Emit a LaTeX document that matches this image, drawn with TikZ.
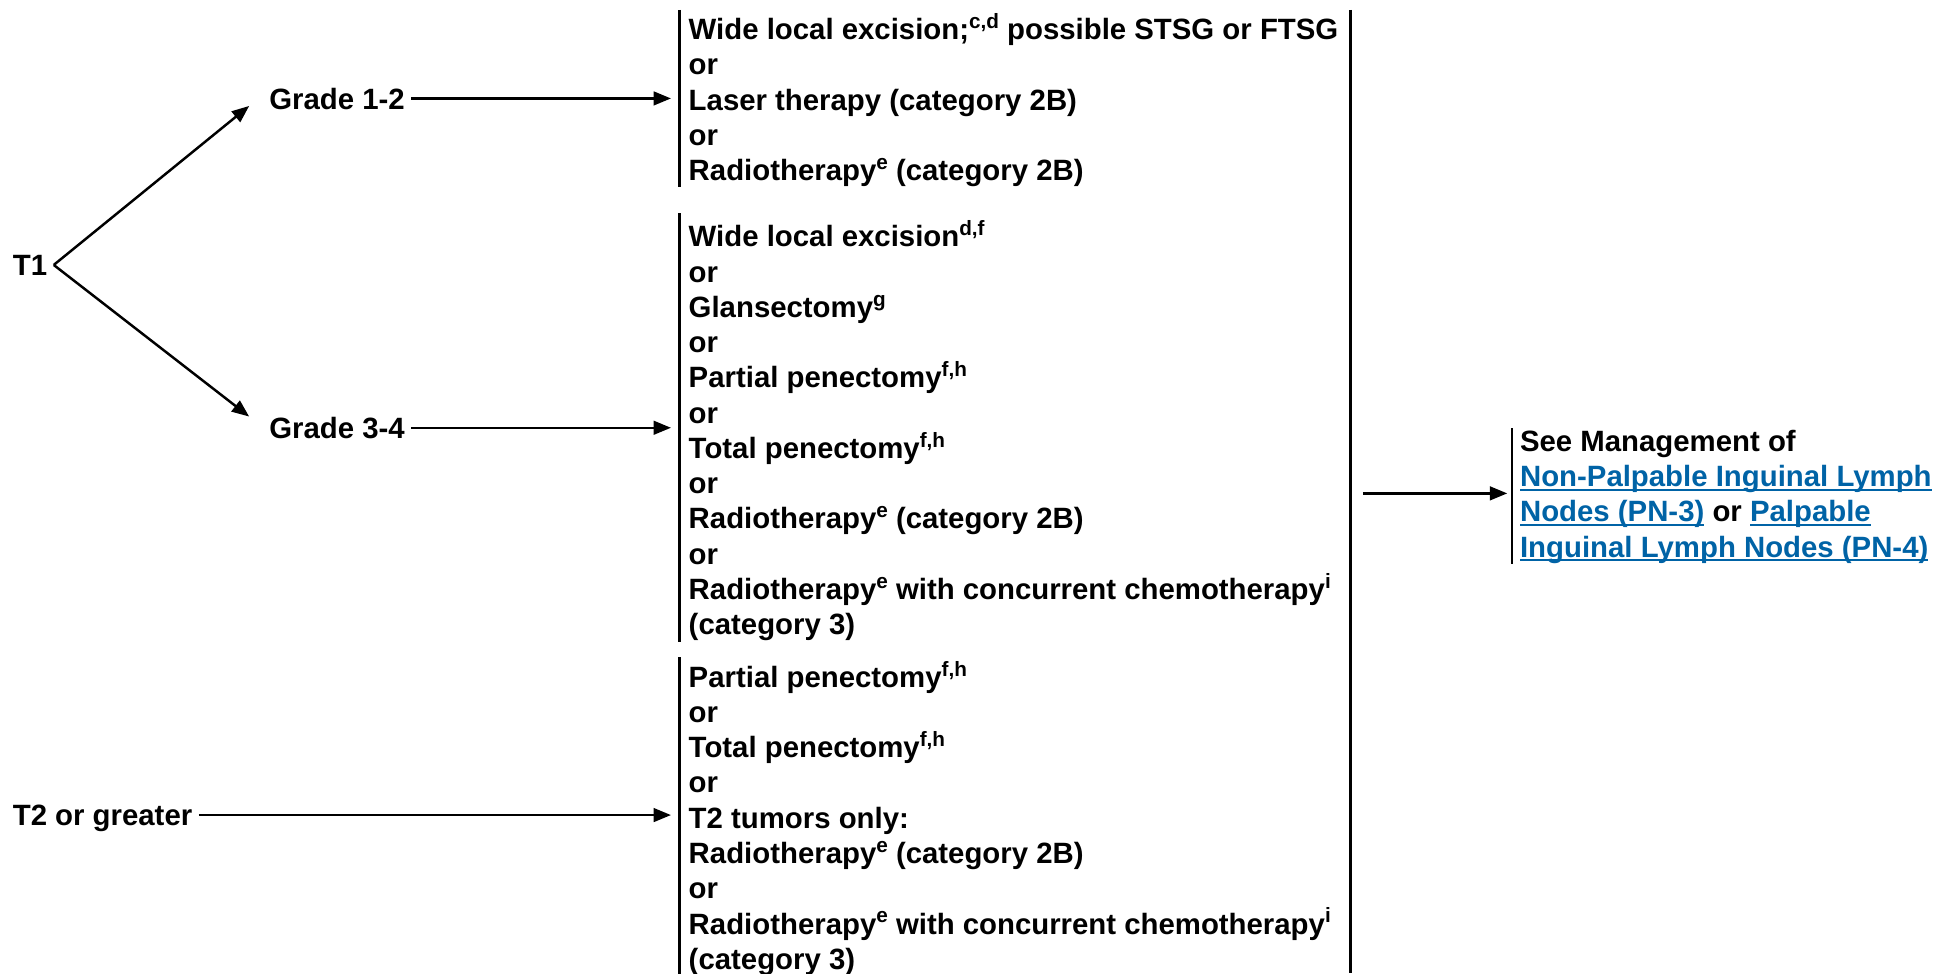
\documentclass[tikz,border=0pt]{standalone}
\usepackage{fontspec}
\setmainfont{Liberation Sans}
\usetikzlibrary{arrows.meta}
\definecolor{nccnblue}{RGB}{0,99,166}
\newcommand\nlink[1]{{\color{nccnblue}\setbox0\hbox{#1}\rlap{\rule[-1.7pt]{\wd0}{0.85pt}}\box0}}
\newcommand\sups[1]{\raisebox{4.5pt}{\fontsize{8.4}{9}\selectfont #1}}
\begin{document}
\begin{tikzpicture}[x=0.5pt,y=-0.5pt,
  every node/.style={font=\fontsize{11.9}{14.3}\selectfont\bfseries},
  lbl/.style={inner xsep=2.5pt, inner ysep=0pt, text height=8.7pt, text depth=0pt, anchor=base west},
  opts/.style={align=left, anchor=north west, inner xsep=3.5pt, inner ysep=0pt},
  conn/.style={line width=1pt, -{Triangle[length=7pt,width=5.5pt]}},
  bar/.style={line width=1pt}]
\useasboundingbox (0,0) rectangle (1568,789);

% labels
\node[lbl] (t1)  at (5,223.5)   {T1};
\node[lbl] (g12) at (213,88.5)  {Grade 1-2};
\node[lbl] (g34) at (213,355.5) {Grade 3-4};
\node[lbl] (t2)  at (5,669.5)   {T2 or greater};

% option blocks
\node[opts] (b1) at (551,10.5) {\strut Wide local excision;\sups{c,d} possible STSG or FTSG\\
or\\
Laser therapy (category 2B)\\
or\\
Radiotherapy\sups{e} (category 2B)};

\node[opts] (b2) at (551,178.5) {\strut Wide local excision\sups{d,f}\\
or\\
Glansectomy\sups{g}\\
or\\
Partial penectomy\sups{f,h}\\
or\\
Total penectomy\sups{f,h}\\
or\\
Radiotherapy\sups{e} (category 2B)\\
or\\
Radiotherapy\sups{e} with concurrent chemotherapy\sups{i}\\
(category 3)};

\node[opts] (b3) at (551,535.5) {\strut Partial penectomy\sups{f,h}\\
or\\
Total penectomy\sups{f,h}\\
or\\
T2 tumors only:\\
Radiotherapy\sups{e} (category 2B)\\
or\\
Radiotherapy\sups{e} with concurrent chemotherapy\sups{i}\\
(category 3)};

\node[opts, inner xsep=3pt] (rb) at (1226,345.5) {\strut See Management of\\
\nlink{Non-Palpable Inguinal Lymph}\\
\nlink{Nodes (PN-3)} or \nlink{Palpable}\\
\nlink{Inguinal Lymph Nodes (PN-4)}};

% bars
\draw[bar] ([yshift=1.25pt]b1.north west) -- (b1.south west);
\draw[bar] ([yshift=2.75pt]b2.north west) -- (b2.south west);
\draw[bar] ([yshift=1.25pt]b3.north west) -- (b3.south west);
\draw[bar] ([yshift=-0.75pt]rb.north west) -- (rb.south west);

\coordinate (rtop) at (1095,8);
\coordinate (rbot) at (1095,789);
\draw[bar] (rtop) -- (rbot);
\coordinate (rstart) at (1105,400);

% connectors
\draw[conn] (t1.east) -- ([xshift=-5.5pt,yshift=1.5pt]g12.south west);
\draw[conn] (t1.east) -- ([xshift=-5.5pt]g34.north west);
\draw[conn, shorten >=3.5pt] (g12.east) -- (g12.east -| b1.west);
\draw[conn, shorten >=3.5pt] (g34.east) -- (g34.east -| b2.west);
\draw[conn, shorten >=3.5pt] (t2.east) -- (t2.east -| b3.west);
\draw[conn, shorten >=2pt] (rstart) -- (rstart -| rb.west);
\end{tikzpicture}
\end{document}
